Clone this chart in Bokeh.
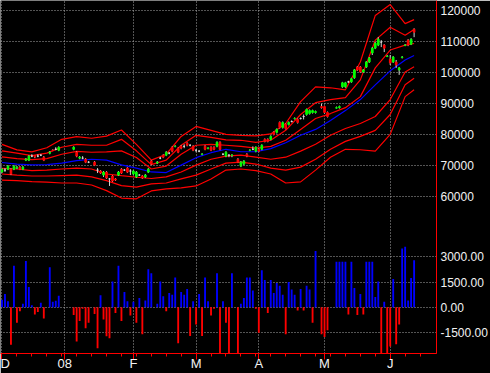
from bokeh.plotting import figure
from bokeh.models import Range1d, LinearAxis, FixedTicker, ColumnDataSource, Grid, BoxAnnotation
from bokeh.embed import file_html
from bokeh.resources import INLINE

# ---------------- data ----------------
month_ticks = [0, 21, 44, 65, 86, 108, 130]
month_labels = ["D", "08", "F", "M", "A", "M", "J"]
week_ticks = list(range(0, 141, 5))
price_ticks = [60000, 70000, 80000, 90000, 100000, 110000, 120000]
price_labels = ["60000", "70000", "80000", "90000", "100000", "110000", "120000"]
osc_ticks = [-1500, 0, 1500, 3000]
osc_labels = ["-1500.00", "0.00", "1500.00", "3000.00"]

N = None
open_ = [67900, 68500, 68800, 68800, 68800, 69150, 69450, 68800, 71700, 71700,
         73000, 73150, 73000, 73300, 72650, N, 73950, 74900, 75200, 74900,
         N, N, N, N, 75200, 74250, 72350, 72350, 72000, 71050,
         N, 71050, 68500, 68200, 66900, 67850, 65650, 66600, 65650, 66900,
         68800, 68500, 69150, 68200, 67250, 66300, 66900, 66600, 66300, 67850,
         71400, N, 70750, 72350, 73300, 73300, 73950, 75850, 76100, 75550,
         76150, 76150, 77150, 76500, 76150, 74900, 74600, 73550, 76150, 75500,
         75850, 75850, 76150, 77450, 73600, 73000, 73300, 73250, N, 72000,
         69800, 70450, 73600, 74850, 75200, 74600, 75200, 75200, 78400, 78400,
         78400, 80650, 80650, 83850, 82250, 83200, 83200, 84150, 85050, 84800,
         85100, 85750, 86400, 86700, 87050, 87050, N, 88950, 88950, 87050,
         N, N, 88450, 88600, 95300, 95300, 96900, 96900, 98200, 101700,
         101700, 100100, 101700, 103300, 106200, 107750, 108750, 109700, 108750, 105050,
         104250, 103300, 103300, 100750, 104750, 108600, 110350, 109050, 113850]
high = [69150, 69150, 70100, 69150, 70100, 69800, 69800, 69800, 72350, 73300,
        73600, 73300, 73600, 73600, 73000, N, 74600, 75200, 75850, 76150,
        N, N, N, N, 76150, 74600, 73000, 73000, 72350, 71400,
        N, 71400, 69150, 68500, 68200, 68200, 65950, 66900, 65950, 68200,
        69150, 68800, 69450, 68800, 68500, 68200, 67250, 66900, 67250, 69150,
        71700, N, 71400, 72650, 73600, 74600, 74250, 76150, 76500, 75850,
        76500, 76800, 77450, 76800, 76500, 75200, 74900, 73950, 76500, 75850,
        76150, 76150, 77750, 77750, 73950, 74600, 73600, 73600, N, 72350,
        71400, 71700, 73950, 75200, 76150, 76150, 75550, 76800, 78700, 78700,
        79700, 80950, 81900, 84150, 84150, 83500, 84150, 84500, 85450, 85100,
        85450, 86400, 88300, 88000, 87950, 87650, N, 89900, 89250, 87350,
        N, N, 88950, 89250, 96900, 96900, 97250, 98200, 101050, 102000,
        102000, 101050, 103600, 104900, 108100, 109700, 111300, 110350, 109050, 105550,
        105550, 105200, 103950, 101700, 105200, 109050, 110650, 110950, 114150]
low = [67550, 67900, 68500, 66900, 68500, 68800, 68500, 68500, 71400, 71400,
       72650, 72350, 72650, 73000, 71400, N, 73600, 74600, 74900, 74600,
       N, N, N, N, 74900, 72650, 72000, 72000, 70750, 70750,
       N, 69800, 67550, 67250, 66300, 65650, 63400, 64700, 65000, 66600,
       67250, 68200, 67550, 66900, 66900, 65950, 66600, 65650, 65950, 67550,
       70100, N, 70450, 72000, 72350, 73000, 73600, 74250, 75850, 73950,
       75200, 75550, 76150, 76150, 74600, 74250, 74250, 73300, 74900, 75200,
       74600, 74900, 75850, 74900, 73300, 72650, 72650, 72650, N, 70750,
       69450, 70100, 72650, 74600, 74900, 74250, 74250, 74900, 77450, 77450,
       78100, 79700, 80300, 81900, 81900, 81600, 82900, 83850, 84800, 83500,
       84800, 84800, 86050, 86400, 86700, 86700, N, 88300, 86700, 85450,
       N, N, 88300, 88300, 95000, 95000, 96600, 96600, 97900, 100450,
       99800, 99800, 101400, 103000, 105550, 107450, 108400, 108100, 106500, 104900,
       102350, 103000, 101400, 99150, 104450, 108400, 108400, 108750, 111300]
close = [68800, 68500, 69800, 67250, 69800, 69450, 68800, 69450, 72000, 73000,
         73000, 72750, 73000, 73300, 71700, N, 74250, 74800, 75200, 75850,
         N, N, N, N, 75850, 73000, 72650, 72350, 71050, 71050,
         N, 70100, 68500, 67550, 67850, 65950, 65650, 65000, 65300, 67850,
         67550, 68500, 67850, 68200, 68200, 67850, 66900, 65950, 66900, 68800,
         70450, N, 71050, 72350, 72650, 74250, 73950, 74600, 76200, 74250,
         75550, 76150, 76500, 76500, 74900, 74900, 74600, 73650, 75200, 75600,
         74900, 75200, 77450, 75200, 73600, 74250, 73300, 73350, N, 71050,
         71050, 71400, 73000, 74950, 75200, 75850, 74600, 76500, 77750, 77750,
         79350, 80000, 81600, 82250, 83850, 81900, 83850, 84150, 85150, 83850,
         85100, 85750, 88000, 87650, 87650, 87350, N, 88600, 87050, 85750,
         N, N, 88600, 88950, 96600, 96600, 96900, 97900, 100750, 100750,
         100100, 100750, 103300, 104600, 107750, 109350, 110650, 109700, 107750, 105200,
         103000, 104900, 102350, 101400, 104900, 108750, 108750, 110650, 112900]
osc = [450, 790, 355, -2250, 2470, -930, -240, 200, 2760, 1200,
       120, -430, -280, 260, -670, N, 2390, 320, 380, 690,
       N, N, N, N, -470, -2050, -830, -100, -1260, -930,
       N, -400, -2450, 710, -730, -1740, -1860, 1540, -340, 2470,
       -830, 910, 355, -490, 320, -930, 550, -1620, 400, 2270,
       2030, N, 200, 1540, 650, -240, 850, 750, 1780, -2150,
       910, 750, 1090, -1720, 355, -1030, 790, -1720, 1780, 355,
       -490, -100, 2030, -3000, 355, -930, -3000, 2030, N, -3000,
       200, 550, 1780, 1780, 990, -100, -1520, 2210, 1620, -340,
       1620, 850, 1440, 1280, 750, -1620, 1500, 1050, 750, -200,
       1090, -200, 1280, 1050, -930, 3360, N, -1620, -1780, -1380,
       N, N, 2720, 2720, 2720, 2720, -430, 2720, 1150, -470,
       790, -430, 2720, 2720, 2720, 610, 1540, -3000, 320, -3000,
       -2350, 1680, -2210, -1030, 3510, 3610, 400, 1740, 2800]

band_days = [0, 5, 10, 15, 20, 25, 30, 35, 40, 45, 50, 55, 60, 65, 70, 75, 80,
             85, 90, 95, 100, 105, 110, 115, 120, 125, 130, 135, 138]
upper3 = [76800, 75000, 74350, 75700, 78400, 79250, 78750, 79450, 81400, 76800,
          71700, 73600, 79350, 82550, 81300, 80000, 79700, 79500, 80150, 83500,
          90550, 95300, 95000, 94350, 103300, 118300, 121800, 115650, 116950]
upper2 = [74700, 73950, 73150, 73950, 75850, 76800, 76500, 76500, 78400, 74700,
          70250, 71700, 76500, 79700, 79050, 78250, 78100, 77450, 78100, 81300,
          86400, 90200, 91200, 91800, 97550, 110350, 114500, 111900, 113750]
upper1 = [72750, 72200, 71850, 72200, 73600, 74500, 74250, 74350, 74700, 72550,
          68850, 69800, 73600, 76500, 76800, 76500, 76150, 75550, 76150, 78100,
          81600, 85100, 86700, 88600, 92150, 101400, 107150, 108750, 109250]
mavg = [70950, 70450, 70200, 70250, 70750, 71550, 72000, 71700, 70200, 69150,
        67900, 67700, 70100, 72500, 74100, 75200, 74400, 74400, 75400, 77300,
        79700, 81600, 84450, 87650, 91200, 95950, 100450, 103950, 105400]
lower1 = [69050, 68850, 68350, 68500, 68850, 69150, 68850, 67250, 66700, 66200,
          65800, 66300, 67900, 70100, 72000, 73000, 73300, 72650, 72000, 72650,
          74600, 76800, 79700, 81900, 83500, 85750, 91200, 100100, 101800]
lower2 = [67250, 66900, 66600, 66600, 66750, 66900, 66300, 65100, 63500, 63000,
          64050, 64350, 65650, 66900, 68850, 70750, 71050, 70450, 69150, 68500,
          69450, 72000, 75200, 77750, 79350, 81300, 86400, 95950, 98100]
lower3 = [65300, 65100, 64800, 64600, 64350, 64350, 63700, 61900, 59500, 59250,
          61800, 62450, 62750, 63400, 65650, 68500, 68850, 68350, 67250, 64350,
          64700, 68500, 72650, 75200, 75050, 74600, 80000, 92150, 94350]

# ---------------- styling / layout ----------------
BG = "#000000"
RED = "#ff0000"
GRID = "#a8a8a8"
TXT = "#f2f2f2"
FONT = "Liberation Sans"
X0, X1 = -0.5, 145.5
# one frame 438 x 356 px: price occupies the upper part, the oscillator the lower part
PY0, PY1 = 9461, 123096
OY0, OY1 = -2765, 18311
SPLIT = 49042            # price value at the panel boundary

p = figure(width=490, height=373, x_range=Range1d(X0, X1), y_range=Range1d(PY0, PY1),
           output_backend="svg", toolbar_location=None,
           x_axis_location=None, y_axis_location=None,
           min_border_left=0, min_border_right=52, min_border_top=0, min_border_bottom=17,
           background_fill_color=BG, border_fill_color=BG, outline_line_color=None)
p.extra_y_ranges = {"osc": Range1d(OY0, OY1)}

for g in (p.xgrid, p.ygrid):
    g.grid_line_color = GRID
    g.grid_line_dash = "1 2"
    g.grid_line_width = 1
p.xgrid.ticker = FixedTicker(ticks=month_ticks)
p.ygrid.ticker = FixedTicker(ticks=price_ticks)
p.add_layout(Grid(dimension=1, y_range_name="osc", ticker=FixedTicker(ticks=osc_ticks),
                  grid_line_color=GRID, grid_line_dash="1 2", grid_line_width=1))

# right axis: price labels, plus oscillator labels placed through the osc range
k = (PY1 - PY0) / (OY1 - OY0)
osc_pos = [round(PY0 + (v - OY0) * k) for v in osc_ticks]
r_ticks = price_ticks + osc_pos
r_labels = price_labels + osc_labels
ry = LinearAxis(ticker=FixedTicker(ticks=r_ticks),
                major_label_overrides={t: l for t, l in zip(r_ticks, r_labels)},
                axis_line_color=RED, axis_line_width=1,
                major_tick_out=0, major_tick_in=0, minor_tick_out=0, minor_tick_in=0,
                major_label_text_color=TXT, major_label_text_font=FONT,
                major_label_text_font_size="12px", major_label_standoff=4,
                major_label_text_align="left")
p.add_layout(ry, "right")

xa = LinearAxis(ticker=FixedTicker(ticks=month_ticks, minor_ticks=week_ticks),
                major_label_overrides={t: l for t, l in zip(month_ticks, month_labels)},
                axis_line_color=RED, axis_line_width=1,
                major_tick_line_color=RED, minor_tick_line_color=RED,
                major_tick_out=6, major_tick_in=0, minor_tick_out=3, minor_tick_in=0,
                major_label_text_color=TXT, major_label_text_font=FONT,
                major_label_text_font_size="13px", major_label_standoff=-4,
                major_label_text_align="left")
p.add_layout(xa, "below")

# red separator in the axis strip between the two panels
p.add_layout(BoxAnnotation(left=X1, right=X1 + 20, top=SPLIT + 160, bottom=SPLIT - 160,
                           fill_color=RED, fill_alpha=1, line_color=None))

# bands and moving average
band_src = ColumnDataSource(dict(d=band_days, u3=upper3, u2=upper2, u1=upper1,
                                 m=mavg, l1=lower1, l2=lower2, l3=lower3))
for key in ("u3", "u2", "u1", "l1", "l2", "l3"):
    p.line("d", key, source=band_src, line_color=RED, line_width=1.2)
p.line("d", "m", source=band_src, line_color="#0000ff", line_width=1.2)

# candlesticks
cd = dict(d=[], o=[], h=[], l=[], c=[], top=[], bot=[], col=[])
for i in range(len(open_)):
    if open_[i] is None:
        continue
    o, h, l, c = open_[i], high[i], low[i], close[i]
    cd["d"].append(i); cd["o"].append(o); cd["h"].append(h)
    cd["l"].append(l); cd["c"].append(c)
    cd["top"].append(max(o, c)); cd["bot"].append(min(o, c))
    cd["col"].append("#00ff00" if c > o else (RED if c < o else "#d8d8d8"))
csrc = ColumnDataSource(cd)
p.segment("d", "l", "d", "h", source=csrc, line_color="#d0d0d0", line_width=1)
p.vbar(x="d", width=0.55, top="top", bottom="bot", source=csrc,
       fill_color="col", line_color="col", line_width=1)

# oscillator bars
od = dict(d=[], v=[], col=[])
for i, v in enumerate(osc):
    if v is None:
        continue
    od["d"].append(i); od["v"].append(v)
    od["col"].append("#0000ff" if v >= 0 else RED)
p.vbar(x="d", width=0.62, top="v", bottom=0, source=ColumnDataSource(od),
       fill_color="col", line_color=None, y_range_name="osc")

open("out.html", "w").write(file_html(p, INLINE))
